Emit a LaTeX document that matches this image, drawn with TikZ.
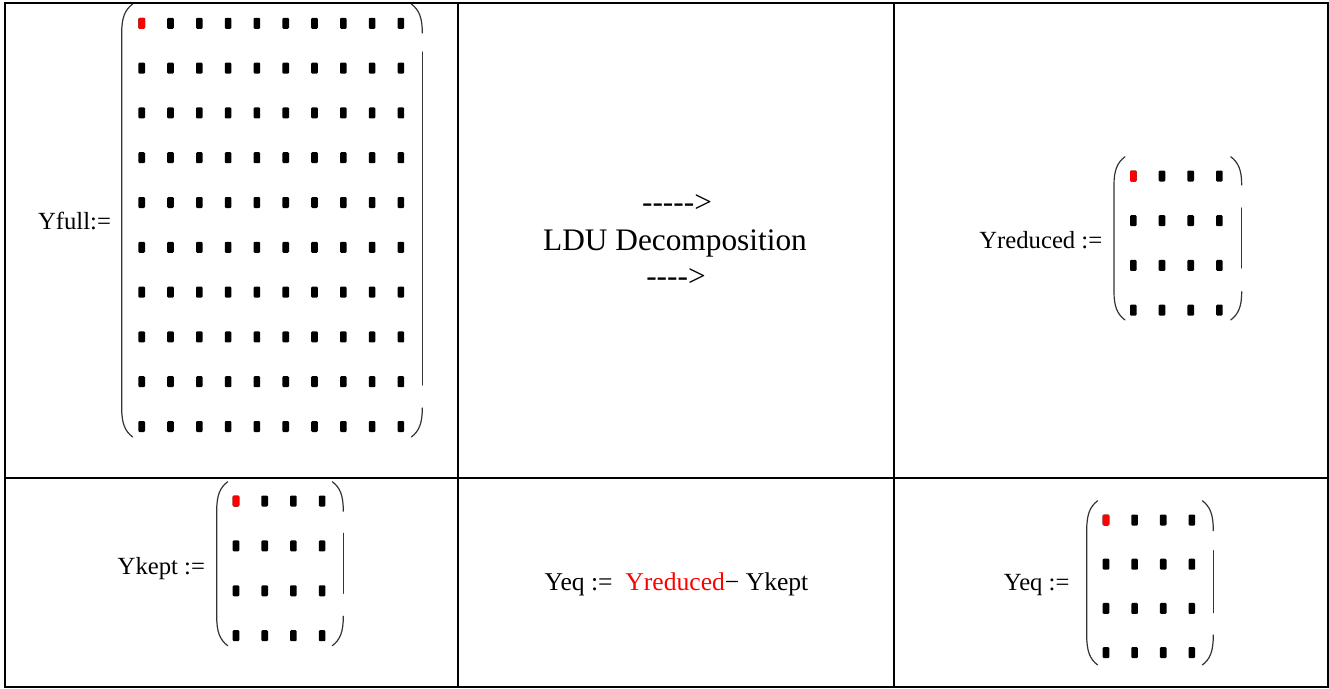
\documentclass[tikz,border=0pt]{standalone}
\usepackage{fontspec}
\setmainfont{Liberation Serif}
\newfontfamily\noligfont{Liberation Serif}[Ligatures=TeXOff]
\newcommand\MatDots[6]{%
  \foreach \i in {1,...,#5}{\foreach \j in {1,...,#6}{%
    \fill[black,rounded corners=0.8pt] ({#1+(\i-1)*#3-3.3},{#2+(\j-1)*#4-5.5}) rectangle ++(6.6,11);}}%
  \fill[red,rounded corners=0.8pt] ({#1-3.3},{#2-5.5}) rectangle ++(6.6,11);}
% #1 xl, #2 xr, #3 top, #4 bottom, #5 hook h, #6 mid start, #7 mid end
\newcommand\MatBr[7]{%
  \draw[br] ({#1+11},#3) .. controls ({#1+3},{#3+6}) and (#1,{#3+14}) .. (#1,{#3+#5})
     -- (#1,{#4-#5}) .. controls (#1,{#4-14}) and ({#1+3},{#4-6}) .. ({#1+11},#4);
  \draw[br] ({#2-11},#3) .. controls ({#2-3},{#3+6}) and (#2,{#3+14}) .. (#2,{#3+#5});
  \draw[br] (#2,#6) -- (#2,#7);
  \draw[br] (#2,{#4-#5}) .. controls (#2,{#4-14}) and ({#2-3},{#4-6}) .. ({#2-11},#4);}
\begin{document}
\begin{tikzpicture}[x=0.75pt,y=-0.75pt,
  cell/.style={line width=1.5pt},
  br/.style={line width=0.9pt,line cap=round,black!80},
  lbl/.style={inner sep=0pt,anchor=base,font=\fontsize{18.5}{22}\selectfont},
  bigl/.style={inner sep=0pt,anchor=base,font=\noligfont\fontsize{23.5}{28}\selectfont}]
\useasboundingbox (0,0) rectangle (1329,689);
% table
\draw[cell] (4.5,2.5) rectangle (1327.5,687);
\draw[cell] (458,2.5) -- (458,687);
\draw[cell] (894,2.5) -- (894,687);
\draw[cell] (4.5,478) -- (1327.5,478);
% Yfull
\node[lbl] (yfull) at (74.5,229.3) {Yfull:=};
\MatBr{121.7}{422.3}{4}{437}{29}{52}{385}
\MatDots{141.7}{23.3}{28.8}{44.8}{10}{10}
% middle top
\node[bigl] (arr1) at (677,212) {----->};
\node[bigl] (ldu) at (675,250) {LDU Decomposition};
\node[bigl] (arr2) at (676,286.7) {---->};
% Yreduced
\node[lbl] (yred) at (1040.8,248.3) {Yreduced :=};
\MatBr{1114}{1241.7}{156.7}{320}{28.3}{208}{268}
\MatDots{1133.3}{176}{28.7}{44.7}{4}{4}
% Ykept
\node[lbl] (ykept) at (161.3,574.3) {Ykept :=};
\MatBr{216.7}{343.3}{481.7}{645.7}{29.5}{533.3}{593.3}
\MatDots{236}{501}{28.7}{44.9}{4}{4}
% equation
\node[lbl,font=\fontsize{19.2}{23}\selectfont] (eqn) at (676.5,590.7) {Yeq :=\hspace{0.25em} \textcolor{red}{Yreduced}− Ykept};
% Yeq
\node[lbl] (yeq) at (1036.7,590) {Yeq :=};
\MatBr{1086.7}{1213.3}{500.7}{665}{30}{550.7}{612.7}
\MatDots{1106}{520}{28.6}{44.2}{4}{4}
\end{tikzpicture}
\end{document}
